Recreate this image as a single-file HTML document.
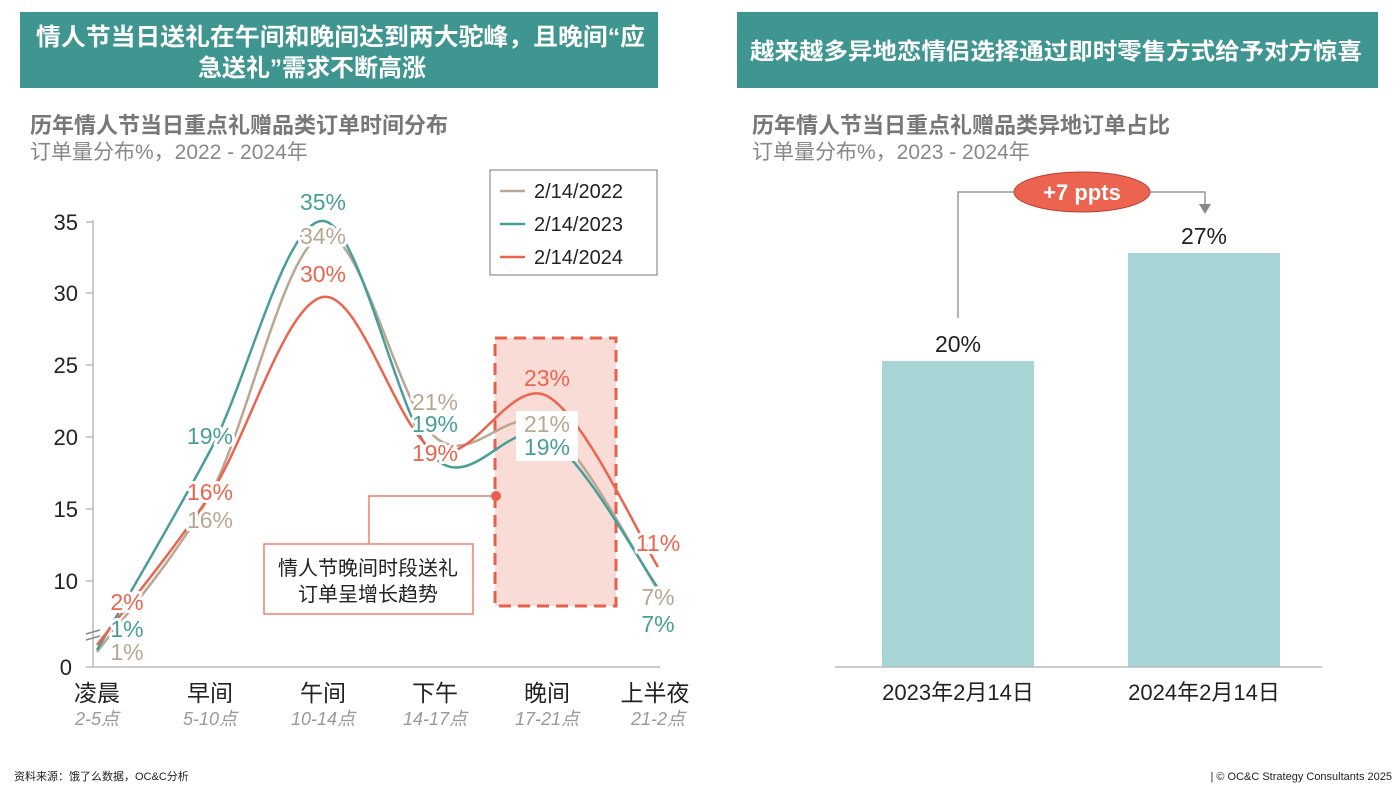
<!DOCTYPE html>
<html><head><meta charset="utf-8"><style>
body{margin:0;background:#fff;}
svg text{font-family:"Liberation Sans","Noto Sans CJK SC",sans-serif;}
.lab{font-size:23px;text-anchor:middle;paint-order:stroke;stroke:#fff;stroke-width:6px;stroke-linejoin:round;}
</style></head><body>
<svg width="1400" height="788" viewBox="0 0 1400 788" xmlns="http://www.w3.org/2000/svg">
<rect x="20" y="12" width="638" height="76" fill="#3f9590"/>
<text x="36" y="45" fill="#fff" font-size="24" font-weight="bold" textLength="609" lengthAdjust="spacingAndGlyphs">情人节当日送礼在午间和晚间达到两大驼峰，且晚间“应</text>
<text x="312" y="76" fill="#fff" font-size="24" font-weight="bold" text-anchor="middle">急送礼”需求不断高涨</text>
<rect x="737" y="12" width="641" height="76" fill="#3f9590"/>
<text x="750" y="59" fill="#fff" font-size="23" font-weight="bold" textLength="612" lengthAdjust="spacingAndGlyphs">越来越多异地恋情侣选择通过即时零售方式给予对方惊喜</text>
<text x="30" y="133" fill="#777" font-size="22" font-weight="bold">历年情人节当日重点礼赠品类订单时间分布</text>
<text x="30" y="159" fill="#888" font-size="21">订单量分布%，2022 - 2024年</text>
<text x="752" y="133" fill="#777" font-size="22" font-weight="bold">历年情人节当日重点礼赠品类异地订单占比</text>
<text x="752" y="159" fill="#888" font-size="21">订单量分布%，2023 - 2024年</text>
<g stroke="#bbb" stroke-width="1.5" fill="none">
<line x1="93" y1="220" x2="93" y2="667"/>
<line x1="93" y1="667" x2="660" y2="667"/>
<line x1="86" y1="222" x2="93" y2="222"/><line x1="86" y1="293" x2="93" y2="293"/><line x1="86" y1="365" x2="93" y2="365"/><line x1="86" y1="437" x2="93" y2="437"/><line x1="86" y1="509" x2="93" y2="509"/><line x1="86" y1="581" x2="93" y2="581"/><line x1="86" y1="667" x2="93" y2="667"/>
</g>
<path d="M86 634 l14 -4 M86 640 l14 -4" stroke="#888" stroke-width="1.5"/>
<g font-size="22" fill="#222" text-anchor="end">
<text x="78" y="230">35</text><text x="78" y="301">30</text><text x="78" y="373">25</text><text x="78" y="445">20</text><text x="78" y="517">15</text><text x="78" y="589">10</text><text x="72" y="675">0</text>
</g>
<g font-size="23" fill="#222" text-anchor="middle">
<text x="97" y="701">凌晨</text><text x="210" y="701">早间</text><text x="323" y="701">午间</text><text x="435" y="701">下午</text><text x="547" y="701">晚间</text><text x="655" y="701">上半夜</text>
</g>
<g font-size="18" fill="#999" font-style="italic" text-anchor="middle">
<text x="97" y="725">2-5点</text><text x="210" y="725">5-10点</text><text x="323" y="725">10-14点</text><text x="435" y="725">14-17点</text><text x="547" y="725">17-21点</text><text x="658" y="725">21-2点</text>
</g>
<rect x="495" y="338" width="121" height="268" fill="#fadcd7" stroke="#e8604c" stroke-width="3" stroke-dasharray="12 7"/>
<path d="M369 544 V496 H496" stroke="#e8604c" stroke-width="1.2" fill="none"/>
<circle cx="496" cy="496" r="5" fill="#e8604c"/>
<rect x="264" y="544" width="209" height="70" fill="#fff" stroke="#f08070" stroke-width="1.5"/>
<text x="368" y="575" font-size="20" fill="#222" text-anchor="middle">情人节晚间时段送礼</text>
<text x="368" y="601" font-size="20" fill="#222" text-anchor="middle">订单呈增长趋势</text>
<g fill="none" stroke-width="2.5">
<path stroke="#b9a792" d="M97 652 C116 626 172 564 210 495 C248 425 285 245 323 235 C360 225 398 405 435 437 C472 469 510 400 547 426 C584 452 640 563 658 590"/>
<path stroke="#4a9e9a" d="M97 650 C116 617 172 522 210 451 C248 380 285 220 323 221 C360 222 398 422 435 458 C472 494 510 415 547 437 C584 459 640 563 658 588"/>
<path stroke="#ec6450" d="M97 645 C116 620 172 553 210 495 C248 437 285 304 323 297 C360 290 398 434 435 451 C472 467 510 377 547 396 C584 415 640 538 658 567"/>
</g>
<text class="lab" x="323" y="210" fill="#4a9e9a">35%</text>
<text class="lab" x="323" y="244" fill="#b9a792">34%</text>
<text class="lab" x="323" y="282" fill="#ec6450">30%</text>
<text class="lab" x="210" y="444" fill="#4a9e9a">19%</text>
<text class="lab" x="210" y="500" fill="#ec6450">16%</text>
<text class="lab" x="210" y="528" fill="#b9a792">16%</text>
<text class="lab" x="435" y="410" fill="#b9a792">21%</text>
<text class="lab" x="435" y="432" fill="#4a9e9a">19%</text>
<text class="lab" x="435" y="461" fill="#ec6450">19%</text>
<text x="547" y="386" font-size="23" text-anchor="middle" fill="#ec6450">23%</text>
<rect x="516" y="411" width="62" height="50" fill="#fff"/>
<text x="547" y="432" font-size="23" text-anchor="middle" fill="#b9a792">21%</text>
<text x="547" y="455" font-size="23" text-anchor="middle" fill="#4a9e9a">19%</text>
<text class="lab" x="658" y="551" fill="#ec6450">11%</text>
<text class="lab" x="658" y="605" fill="#b9a792">7%</text>
<text class="lab" x="658" y="632" fill="#4a9e9a">7%</text>
<text class="lab" x="127" y="610" fill="#ec6450">2%</text>
<text class="lab" x="127" y="637" fill="#4a9e9a">1%</text>
<text class="lab" x="127" y="660" fill="#b9a792">1%</text>
<rect x="490" y="170" width="167" height="105" fill="#fff" stroke="#777" stroke-width="1"/>
<line x1="500" y1="191" x2="525" y2="191" stroke="#b9a792" stroke-width="2.5"/>
<line x1="500" y1="224" x2="525" y2="224" stroke="#4a9e9a" stroke-width="2.5"/>
<line x1="500" y1="257" x2="525" y2="257" stroke="#ec6450" stroke-width="2.5"/>
<g font-size="20" fill="#222"><text x="534" y="198">2/14/2022</text><text x="534" y="231">2/14/2023</text><text x="534" y="264">2/14/2024</text></g>
<rect x="882" y="361" width="152" height="306" fill="#a7d4d4"/>
<rect x="1128" y="253" width="152" height="414" fill="#a7d4d4"/>
<line x1="835" y1="667" x2="1322" y2="667" stroke="#bbb" stroke-width="1.5"/>
<text x="958" y="352" font-size="23" fill="#222" text-anchor="middle">20%</text>
<text x="1204" y="244" font-size="23" fill="#222" text-anchor="middle">27%</text>
<text x="958" y="700" font-size="22" fill="#222" text-anchor="middle">2023年2月14日</text>
<text x="1204" y="700" font-size="22" fill="#222" text-anchor="middle">2024年2月14日</text>
<path d="M958 318 V192 H1020 M1145 192 H1205 V206" stroke="#999" stroke-width="1.5" fill="none"/>
<path d="M1199 204 L1211 204 L1205 214 Z" fill="#888"/>
<ellipse cx="1082" cy="192" rx="68" ry="20" fill="#ec6450" stroke="#b84030" stroke-width="1"/>
<text x="1082" y="200" font-size="22" font-weight="bold" fill="#fff" text-anchor="middle">+7 ppts</text>
<text x="14" y="780" font-size="11" fill="#222">资料来源：饿了么数据，OC&amp;C分析</text>
<text x="1392" y="780" font-size="11" fill="#222" text-anchor="end">| © OC&amp;C Strategy Consultants 2025</text>
</svg>
</body></html>
